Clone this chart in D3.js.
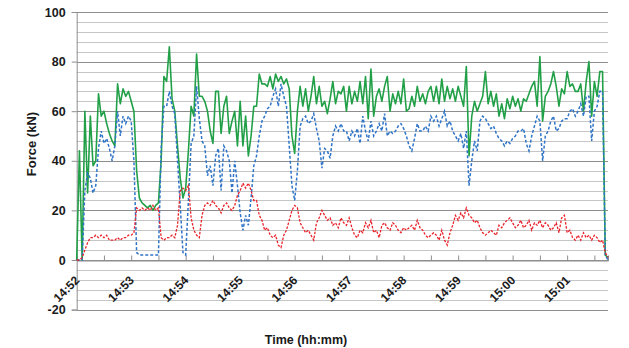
<!DOCTYPE html>
<html>
<head>
<meta charset="utf-8">
<script src="https://cdn.jsdelivr.net/npm/d3@7"></script>
<style>
  body { margin: 0; background: #fff; }
  text { font-family: "Liberation Sans", Arial, sans-serif; }
</style>
</head>
<body>
<svg id="chart" width="629" height="348"></svg>
<script>
// Recording start and sampling interval (one reading every 3 s)
const startTime = "14:52:00";
const sampleSeconds = 3;

// Total force (kN), solid green
const totalForce = [
  0,44,0,60,27,58,38,40,67,58,
  60,55,51,48,46,71,63,69,66,68,
  64,60,36,25,23,22,21,22,20,22,
  23,40,74,72,86,65,60,46,33,25,
  29,44,62,58,83,66,66,64,60,52,
  47,68,68,51,62,66,51,56,60,46,
  64,46,58,42,50,62,62,75,71,71,
  70,74,69,75,72,74,71,73,69,50,
  43,60,70,62,69,60,66,74,63,70,
  62,64,59,65,72,63,68,67,70,60,
  70,63,68,64,72,63,74,57,77,58,
  66,69,64,70,74,60,67,63,68,63,
  73,60,61,66,62,70,64,67,63,68,
  70,64,70,63,73,64,70,65,69,64,
  70,66,62,78,42,58,64,60,63,66,
  76,63,68,62,67,58,63,57,65,61,
  66,62,65,60,65,64,67,70,72,62,
  82,56,66,68,71,76,70,62,69,67,
  76,70,71,68,68,71,60,72,80,58,
  72,66,76,76,2,1
];

// Force component A (kN), blue dashed
const forceA = [
  0,0,0,28,35,33,27,30,45,52,
  47,49,45,40,46,60,50,58,55,58,
  56,40,3,2,2,2,2,2,2,2,
  2,45,62,62,68,62,59,40,22,3,
  2,24,47,50,70,57,48,46,34,38,
  30,42,45,28,46,44,40,27,40,30,
  19,12,18,14,25,38,42,50,56,58,
  61,62,66,69,62,71,66,62,46,30,
  24,36,54,57,58,55,56,59,53,48,
  37,45,44,41,50,54,52,55,52,52,
  48,52,50,53,47,58,52,48,56,50,
  52,55,52,59,50,52,51,52,54,55,
  53,50,46,44,49,55,52,52,54,52,
  58,56,58,54,57,60,54,56,52,50,
  48,51,45,52,30,40,48,44,56,58,
  57,55,53,54,51,49,48,46,48,47,
  49,50,52,52,53,47,44,50,54,58,
  56,40,50,52,56,58,52,53,56,57,
  57,60,61,58,60,63,58,66,66,48,
  60,62,68,68,2,0
];

// Force component B (kN), red dashed
const forceB = [
  0,0,1,4,7,9,9,10,9,10,
  9,10,8,8,8,9,8,9,9,10,
  10,11,21,20,21,20,21,20,22,20,
  21,9,8,9,9,10,9,14,28,29,
  28,30,17,12,10,9,18,22,23,22,
  24,22,21,19,22,23,21,20,22,26,
  28,31,29,31,28,24,24,18,16,12,
  13,10,9,10,6,5,10,12,16,20,
  22,21,15,13,11,12,10,8,15,17,
  20,18,16,17,14,15,13,17,15,14,
  17,13,10,9,12,11,15,13,16,11,
  12,9,14,15,13,12,15,14,12,11,
  13,12,13,14,12,16,13,12,10,9,
  10,11,10,8,12,8,6,11,14,18,
  16,19,17,21,18,17,15,16,13,11,
  10,11,12,11,10,14,13,15,16,17,
  15,13,14,16,13,14,16,12,15,14,
  16,13,15,14,12,13,15,11,17,18,
  11,12,9,8,10,8,11,9,10,8,
  10,9,7,8,3,1
];

const yTickValues = [-20, 0, 20, 40, 60, 80, 100];
const minuteLabels = ["14:52","14:53","14:54","14:55","14:56","14:57","14:58","14:59","15:00","15:01"];

const svg = d3.select("#chart");
const plot = { left: 76.7, right: 608, top: 12, bottom: 309.6 };

const parseClock = d3.timeParse("%H:%M:%S");
const t0 = parseClock(startTime);
const timeAt = i => new Date(t0.getTime() + i * sampleSeconds * 1000);
const tEnd = timeAt(totalForce.length - 1);

const x = d3.scaleTime().domain([t0, tEnd]).range([plot.left, plot.right]);
const y = d3.scaleLinear().domain([-20, 100]).range([plot.bottom, plot.top]);

// Horizontal gridlines: minor every 4 kN, major every 20 kN
const gridValues = d3.range(-20, 100.1, 4);
svg.append("g")
  .selectAll("line")
  .data(gridValues)
  .join("line")
  .attr("x1", plot.left).attr("x2", plot.right)
  .attr("y1", d => Math.round(y(d)) + 0.5)
  .attr("y2", d => Math.round(y(d)) + 0.5)
  .attr("stroke", d => d % 20 === 0 ? "#8e8e8e" : "#c6c6c6")
  .attr("stroke-width", 1);

// Vertical axis
const yAxis = d3.axisLeft(y).tickValues(yTickValues).tickSize(5).tickPadding(6)
  .tickFormat(d => String(d));
const gy = svg.append("g").attr("transform", `translate(${plot.left},0)`).call(yAxis);
gy.select(".domain").attr("stroke", "#8e8e8e");
gy.selectAll(".tick line").attr("stroke", "#8e8e8e");
gy.selectAll(".tick text")
  .attr("font-size", 12.5).attr("font-weight", "bold").attr("fill", "#1a1a1a");

// Horizontal axis line at 0 kN with half-minute ticks
const halfMinutes = d3.timeSecond.every(30).range(t0, new Date(tEnd.getTime() + 1));
const xTicks = d3.axisBottom(x).tickValues(halfMinutes).tickSize(-5).tickFormat("");
const gx = svg.append("g").attr("transform", `translate(0,${Math.round(y(0)) + 0.5})`).call(xTicks);
gx.select(".domain").attr("stroke", "#8e8e8e");
gx.selectAll(".tick line").attr("stroke", "#8e8e8e");

// Minute labels, rotated
const parseMinute = d3.timeParse("%H:%M");
const labelDates = minuteLabels.map(parseMinute);
const xLabels = d3.axisBottom(x).tickValues(labelDates).tickSize(0).tickFormat(d3.timeFormat("%H:%M"));
const gl = svg.append("g").attr("transform", `translate(0,${y(0)})`).call(xLabels);
gl.select(".domain").remove();
gl.selectAll(".tick text")
  .attr("x", 0).attr("y", 0).attr("dy", null)
  .attr("text-anchor", "end")
  .attr("transform", "translate(3,21) rotate(-45)")
  .attr("font-size", 12).attr("font-weight", "bold").attr("fill", "#1a1a1a");

// Series
const lineOf = values => d3.line()
  .x((d, i) => x(timeAt(i)))
  .y(d => y(d))(values);

svg.append("path").attr("d", lineOf(totalForce))
  .attr("fill", "none").attr("stroke", "#22a048").attr("stroke-width", 1.6)
  .attr("stroke-linejoin", "round");
svg.append("path").attr("d", lineOf(forceA))
  .attr("fill", "none").attr("stroke", "#2f74c6").attr("stroke-width", 1.5)
  .attr("stroke-dasharray", "3,2");
svg.append("path").attr("d", lineOf(forceB))
  .attr("fill", "none").attr("stroke", "#e8232b").attr("stroke-width", 1.3)
  .attr("stroke-dasharray", "2.5,1.5");

// Axis titles
svg.append("text")
  .attr("transform", "translate(36,144) rotate(-90)")
  .attr("text-anchor", "middle")
  .attr("font-size", 13).attr("font-weight", "bold").attr("fill", "#1a1a1a")
  .text("Force (kN)");
svg.append("text")
  .attr("x", 306).attr("y", 344)
  .attr("text-anchor", "middle")
  .attr("font-size", 12.5).attr("font-weight", "bold").attr("fill", "#1a1a1a")
  .text("Time (hh:mm)");
</script>
</body>
</html>
